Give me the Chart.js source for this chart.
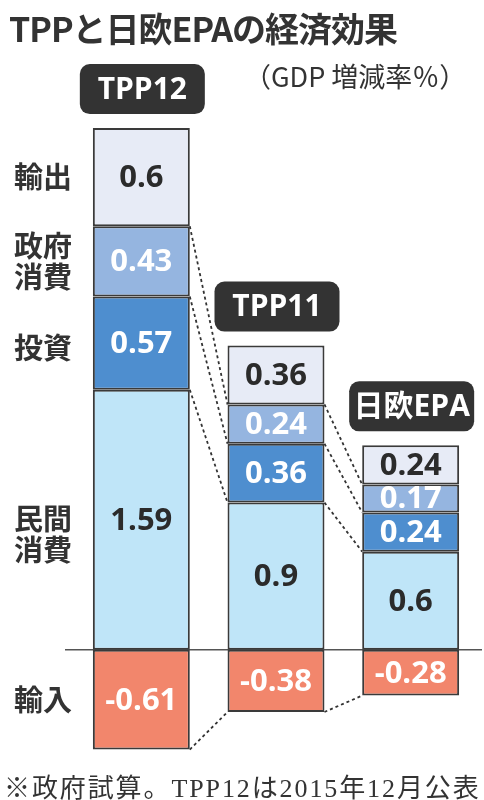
<!DOCTYPE html>
<html>
<head>
<meta charset="utf-8">
<script src="https://cdn.jsdelivr.net/npm/chart.js@4"></script>
<style>
  body { margin: 0; background: #fff; }
  #wrap { position: relative; width: 484px; height: 800px; }
  #c { position: absolute; left: 0; top: 0; }
  .t { position: absolute; color: #333; white-space: nowrap; line-height: 1; }
  #title { left: 9px; top: 3px; font: bold 34px 'Noto Sans CJK JP', sans-serif; letter-spacing: -1px; }
  #sub { left: 244px; top: 56px; font: 27px 'Noto Sans CJK JP', sans-serif; }
  #note { left: 4px; top: 767px; font: 26px 'Liberation Serif', 'Noto Sans CJK JP', serif; letter-spacing: 1.9px; }
</style>
</head>
<body>
<div id="wrap">
  <canvas id="c" width="484" height="800"></canvas>
  <div class="t" id="title">TPPと日欧EPAの経済効果</div>
  <div class="t" id="sub">（GDP 増減率％）</div>
  <div class="t" id="note">※政府試算。TPP12は2015年12月公表</div>
</div>
<script>
var scenarios = ['TPP12', 'TPP11', '日欧EPA'];
var privateCons = [1.59, 0.9, 0.6];
var investment = [0.57, 0.36, 0.24];
var govCons = [0.43, 0.24, 0.17];
var exports = [0.6, 0.36, 0.24];
var imports = [-0.61, -0.38, -0.28];
var componentNames = ['民間\n消費', '投資', '政府\n消費', '輸出', '輸入'];

var fills = ['#bfe5f8', '#4e8ecf', '#95b5e0', '#e7ebf6', '#f2866c'];
var textColors = ['#2b2b2b', '#fff', '#fff', '#2b2b2b', '#fff'];
var nameShift = [15, 5, 0, 0, 0];

var decorPlugin = {
    id: 'decor',
    beforeDatasetsDraw: function (chart) {
        var ctx = chart.ctx;
        var y0 = chart.scales.y.getPixelForValue(0);
        ctx.save();
        ctx.strokeStyle = '#555';
        ctx.lineWidth = 1.5;
        ctx.beginPath();
        ctx.moveTo(65, y0);
        ctx.lineTo(482, y0);
        ctx.stroke();

        // dotted connectors between neighbouring bars
        ctx.setLineDash([3, 3]);
        ctx.strokeStyle = '#333';
        ctx.lineWidth = 1.8;
        [2, 1, 0, 4].forEach(function (ds) {
            var els = chart.getDatasetMeta(ds).data;
            for (var i = 0; i < els.length - 1; i++) {
                var a = els[i], b = els[i + 1];
                ctx.beginPath();
                ctx.moveTo(a.x + a.width / 2, a.y);
                ctx.lineTo(b.x - b.width / 2, b.y);
                ctx.stroke();
            }
        });
        ctx.restore();
    },
    afterDatasetsDraw: function (chart) {
        var ctx = chart.ctx;
        ctx.save();
        ctx.textAlign = 'center';
        ctx.textBaseline = 'middle';

        // values inside segments
        ctx.font = "bold 31px 'Open Sans', sans-serif";
        chart.data.datasets.forEach(function (ds, di) {
            chart.getDatasetMeta(di).data.forEach(function (el, i) {
                ctx.fillStyle = textColors[di];
                ctx.fillText(String(ds.data[i]), el.x, (el.y + el.base) / 2 + 1);
            });
        });

        // component names beside first bar
        ctx.fillStyle = '#333';
        ctx.font = "bold 29px 'Noto Sans CJK JP', sans-serif";
        componentNames.forEach(function (name, di) {
            var el = chart.getDatasetMeta(di).data[0];
            var cy = (el.y + el.base) / 2 + nameShift[di];
            var lines = name.split('\n');
            lines.forEach(function (ln, k) {
                ctx.fillText(ln, 43, cy + (k - (lines.length - 1) / 2) * 31);
            });
        });

        // scenario badges above bars
        var tops = chart.getDatasetMeta(3).data;
        ctx.font = "bold 30px 'Open Sans', 'Noto Sans CJK JP', sans-serif";
        scenarios.forEach(function (s, i) {
            var el = tops[i];
            var w = 125, h = 50;
            var x = el.x - w / 2 + 1, y = el.y - 14 - h;
            ctx.fillStyle = '#333';
            ctx.beginPath();
            ctx.roundRect(x, y, w, h, 10);
            ctx.fill();
            ctx.fillStyle = '#fff';
            ctx.fillText(s, el.x + 1, y + h / 2 + 1);
        });
        ctx.restore();
    }
};

function makeSet(label, data, i) {
    return {
        label: label,
        data: data,
        backgroundColor: fills[i],
        borderColor: '#3a3a3a',
        borderWidth: 2,
        borderSkipped: false,
        barPercentage: 0.72,
        categoryPercentage: 1
    };
}

new Chart(document.getElementById('c').getContext('2d'), {
    type: 'bar',
    data: {
        labels: scenarios,
        datasets: [
            makeSet('民間消費', privateCons, 0),
            makeSet('投資', investment, 1),
            makeSet('政府消費', govCons, 2),
            makeSet('輸出', exports, 3),
            makeSet('輸入', imports, 4)
        ]
    },
    options: {
        responsive: false,
        animation: false,
        layout: { padding: { top: 61, bottom: 3, left: 74, right: 6 } },
        plugins: { legend: { display: false }, tooltip: { enabled: false } },
        scales: {
            x: { stacked: true, display: false },
            y: { stacked: true, display: false, min: -0.9, max: 3.6 }
        }
    },
    plugins: [decorPlugin]
});
</script>
</body>
</html>
